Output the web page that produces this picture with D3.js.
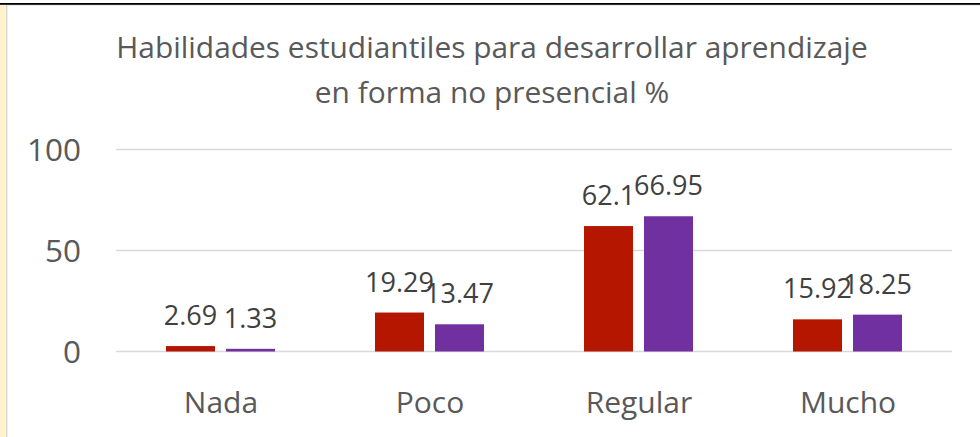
<!DOCTYPE html>
<html>
<head>
<meta charset="utf-8">
<script src="https://cdn.jsdelivr.net/npm/d3@7"></script>
<style>
  html, body { margin: 0; padding: 0; background: #fff; }
  svg { display: block; }
  text { font-family: "Open Sans", "Liberation Sans", sans-serif; }
</style>
</head>
<body>
<svg id="chart" width="980" height="437"></svg>
<script>
const categories = ["Nada", "Poco", "Regular", "Mucho"];
const seriesNames = ["Serie 1", "Serie 2"];
const series1 = [2.69, 19.29, 62.1, 15.92];
const series2 = [1.33, 13.47, 66.95, 18.25];
const yTicks = [0, 50, 100];
const titleLines = ["Habilidades estudiantiles para desarrollar aprendizaje", "en forma no presencial %"];
const colors = ["#B41600", "#7030A0"];

const W = 980, H = 437;
const svg = d3.select("#chart");

// frame decorations
svg.append("rect").attr("x", 0).attr("y", 0).attr("width", W).attr("height", H).attr("fill", "#fff");
svg.append("rect").attr("x", 0).attr("y", 4).attr("width", 6).attr("height", H - 4).attr("fill", "#FFF2CC");
svg.append("rect").attr("x", 6).attr("y", 5).attr("width", 1.5).attr("height", H - 5).attr("fill", "#D9D9D9");
svg.append("rect").attr("x", 6).attr("y", 4.5).attr("width", W - 6).attr("height", 1).attr("fill", "#DDDDDD");
svg.append("rect").attr("x", 0).attr("y", 3).attr("width", W).attr("height", 1.8).attr("fill", "#000");

const plot = { left: 116, right: 952, top: 149.5, bottom: 351.5 };

const y = d3.scaleLinear().domain([0, 100]).range([plot.bottom, plot.top]);
const x0 = d3.scaleBand().domain(categories).range([plot.left, plot.right])
  .paddingInner(100 / 209).paddingOuter(50 / 209);
const x1 = d3.scaleBand().domain(seriesNames).range([0, x0.bandwidth()])
  .paddingInner(0.1833).paddingOuter(0);

// gridlines
svg.append("g").selectAll("line").data(yTicks).join("line")
  .attr("x1", plot.left).attr("x2", plot.right)
  .attr("y1", d => y(d)).attr("y2", d => y(d))
  .attr("stroke", "#D9D9D9").attr("stroke-width", 1.5);

// y axis labels
const yAxis = d3.axisLeft(y).tickValues(yTicks).tickSize(0).tickPadding(0);
const yg = svg.append("g").attr("transform", "translate(81,0)").call(yAxis);
yg.select(".domain").remove();
yg.selectAll("text").attr("font-size", 31.5).attr("fill", "#595959")
  .attr("font-family", "'Open Sans', 'Liberation Sans', sans-serif").attr("dy", "0.35em");

// x axis labels
const xPoint = d3.scalePoint().domain(categories).range([plot.left, plot.right]).padding(0.5);
const xg = svg.append("g").attr("transform", "translate(0,413)")
  .call(d3.axisBottom(xPoint).tickSize(0).tickPadding(0));
xg.select(".domain").remove();
xg.selectAll("text").attr("font-size", 30).attr("fill", "#595959").attr("dy", 0)
  .attr("font-family", "'Open Sans', 'Liberation Sans', sans-serif");

// bars
const data = categories.map((c, i) => ({ cat: c, vals: [series1[i], series2[i]] }));
const groups = svg.append("g").selectAll("g").data(data).join("g")
  .attr("transform", d => `translate(${x0(d.cat)},0)`);
groups.selectAll("rect").data(d => d.vals.map((v, j) => ({ v, j }))).join("rect")
  .attr("x", d => x1(seriesNames[d.j]))
  .attr("width", x1.bandwidth())
  .attr("y", d => y(d.v))
  .attr("height", d => y(0) - y(d.v))
  .attr("fill", d => colors[d.j]);

// data labels
groups.selectAll("text.lbl").data(d => d.vals.map((v, j) => ({ v, j }))).join("text")
  .attr("class", "lbl")
  .attr("x", d => x1(seriesNames[d.j]) + x1.bandwidth() / 2)
  .attr("y", d => y(d.v) - 21)
  .attr("text-anchor", "middle")
  .attr("font-size", 27)
  .attr("fill", "#404040")
  .text(d => d.v);

// title
svg.append("g").selectAll("text").data(titleLines).join("text")
  .attr("x", 492)
  .attr("y", (d, i) => 58 + i * 45)
  .attr("text-anchor", "middle")
  .attr("font-size", 29.9)
  .attr("fill", "#595959")
  .text(d => d);
</script>
</body>
</html>
